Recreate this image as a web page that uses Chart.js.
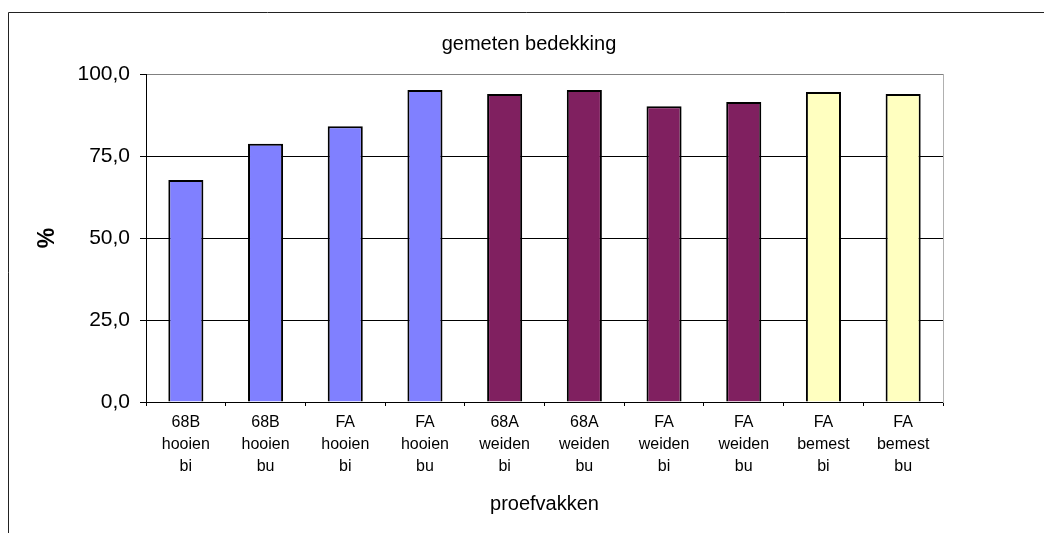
<!DOCTYPE html>
<html>
<head>
<meta charset="utf-8">
<script src="https://cdn.jsdelivr.net/npm/chart.js@4"></script>
<style>
  body { margin: 0; background: #fff; }
  canvas { display: block; }
</style>
</head>
<body>
<canvas id="barChart" width="1044" height="533"></canvas>
<script>
// data
var categories = [
  ['68B', 'hooien', 'bi'], ['68B', 'hooien', 'bu'],
  ['FA', 'hooien', 'bi'], ['FA', 'hooien', 'bu'],
  ['68A', 'weiden', 'bi'], ['68A', 'weiden', 'bu'],
  ['FA', 'weiden', 'bi'], ['FA', 'weiden', 'bu'],
  ['FA', 'bemest', 'bi'], ['FA', 'bemest', 'bu']
];
var groups = ['hooien', 'hooien', 'hooien', 'hooien', 'weiden', 'weiden', 'weiden', 'weiden', 'bemest', 'bemest'];
var bedekking = [67.7, 78.7, 84.1, 95.1, 93.9, 95.1, 90.2, 91.5, 94.5, 93.9];
var yTicks = [0, 25, 50, 75, 100];

var groupColors = { hooien: '#8080FF', weiden: '#802060', bemest: '#FFFFC0' };
var font = "'Liberation Sans', Arial, sans-serif";

// frame around the whole chart (only left and top are visible)
var framePlugin = {
  id: 'frame',
  beforeDraw: function (chart) {
    var ctx = chart.ctx;
    ctx.save();
    ctx.fillStyle = '#fff';
    ctx.fillRect(0, 0, chart.width, chart.height);
    ctx.strokeStyle = '#222';
    ctx.lineWidth = 1;
    ctx.beginPath();
    ctx.moveTo(8.5, chart.height);
    ctx.lineTo(8.5, 12.5);
    ctx.lineTo(chart.width, 12.5);
    ctx.stroke();
    ctx.restore();
  }
};

var ctx = document.getElementById('barChart').getContext('2d');
var barChart = new Chart(ctx, {
  type: 'bar',
  data: {
    labels: categories,
    datasets: [{
      label: 'gemeten bedekking',
      data: bedekking,
      backgroundColor: groups.map(function (g) { return groupColors[g]; }),
      borderColor: '#000',
      borderWidth: 2,
      barPercentage: 0.44,
      categoryPercentage: 1
    }]
  },
  options: {
    responsive: false,
    animation: false,
    layout: { padding: { left: 14, right: 0, top: 0, bottom: 0 } },
    plugins: {
      legend: { display: false },
      tooltip: { enabled: false },
      title: {
        display: true,
        text: 'gemeten bedekking',
        color: '#000',
        font: { family: font, size: 20, weight: 'normal' },
        padding: { top: 32, bottom: 18 }
      }
    },
    scales: {
      x: {
        grid: { display: true, drawOnChartArea: false, drawTicks: true, tickLength: 4, tickColor: '#000', offset: true },
        border: { display: true, color: '#000', width: 1 },
        ticks: {
          color: '#000',
          maxRotation: 0,
          autoSkip: false,
          padding: 6,
          font: { family: font, size: 16, lineHeight: 1.375 }
        },
        title: {
          display: true,
          text: 'proefvakken',
          color: '#000',
          font: { family: font, size: 20 },
          padding: { top: 0, bottom: 17 }
        },
        afterFit: function (scale) { scale.height = 131; }
      },
      y: {
        min: 0,
        max: 100,
        afterBuildTicks: function (scale) {
          scale.ticks = yTicks.map(function (v) { return { value: v }; });
        },
        grid: {
          color: function (c) { return c.tick && c.tick.value === 100 ? '#808080' : '#000'; },
          tickColor: '#000',
          tickLength: 6
        },
        border: { display: true, color: '#000', width: 1 },
        ticks: {
          color: '#000',
          padding: 10,
          font: { family: font, size: 21 },
          callback: function (v) { return v.toFixed(1).replace('.', ','); }
        },
        title: {
          display: true,
          text: '%',
          color: '#000',
          font: { family: font, size: 23, weight: 'bold' },
          padding: { top: 20, bottom: 0 }
        },
        afterFit: function (scale) { scale.width = 132; }
      },
      yRight: {
        position: 'right',
        display: true,
        grid: { display: false, drawTicks: false },
        ticks: { display: false },
        border: { display: true, color: '#b0b0b0', width: 1 },
        afterFit: function (scale) { scale.width = 101; }
      }
    }
  },
  plugins: [framePlugin]
});
</script>
</body>
</html>
